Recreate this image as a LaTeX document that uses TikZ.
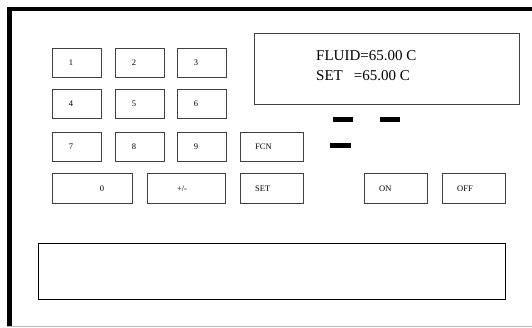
\documentclass[tikz,border=0pt]{standalone}
\usepackage{fontspec}
\setmainfont{Liberation Serif}

\begin{document}
\begin{tikzpicture}[x=1pt,y=-1pt,
  btn/.style={draw=black!75,line width=0.8pt,anchor=north west,inner sep=0pt,minimum width=#1,minimum height=29pt},
  btn/.default=49pt,
  btntxt/.style={font=\fontsize{8.5}{10}\selectfont,inner sep=0pt},
  panel/.style={draw,line width=0.8pt,anchor=north west,inner sep=0pt},
  lcd/.style={font=\fontsize{15}{18}\selectfont,anchor=base west,inner sep=0pt}]
\useasboundingbox (0,0) rectangle (532,328);
\draw[line width=4pt] (7,9) -- (532,9);
\draw[line width=4.5pt] (9.5,7) -- (9.5,326);
\draw[gray!55,line width=1.5pt] (7,326.5) -- (532,326.5);
\foreach \n/\x/\y in {1/52/48,2/115/48,3/177/48,4/52/89,5/115/89,6/177/89,7/52/132,8/115/132,9/177/132}
{
  \node[btn] (k\n) at (\x,\y) {};
  \node[btntxt] at ([xshift=19pt]k\n.west) {\n};
}
\node[btn=63pt] (fcn) at (240,132) {};
\node[btntxt,anchor=west] at ([xshift=15pt]fcn.west) {FCN};
\node[btn=80pt,minimum height=30pt] (k0) at (52,173) {};
\node[btntxt] at ([xshift=50pt]k0.west) {0};
\node[btn=78pt,minimum height=30pt] (pm) at (147,173) {};
\node[btntxt] at ([xshift=35pt]pm.west) {+/-};
\foreach \n/\x/\t in {set/240/SET,on/364/ON,off/442/OFF}
{
  \node[btn=63pt,minimum height=30pt] (\n) at (\x,173) {};
  \node[btntxt,anchor=west] at ([xshift=15pt]\n.west) {\t};
}
\node[panel,draw=black!75,minimum width=265pt,minimum height=71pt] (disp) at (254,33) {};
\node[lcd] (l1) at (316,61) {FLUID=65.00 C};
\node[lcd] (l2) at (316,81) {SET\hspace{11pt}=65.00 C};
\fill (333,117.5) rectangle (353,122.5);
\fill (380,117.5) rectangle (400,122.5);
\fill (330,143) rectangle (351,148.5);
\node[panel,minimum width=467pt,minimum height=56pt] (msg) at (38,243) {};
\end{tikzpicture}
\end{document}
